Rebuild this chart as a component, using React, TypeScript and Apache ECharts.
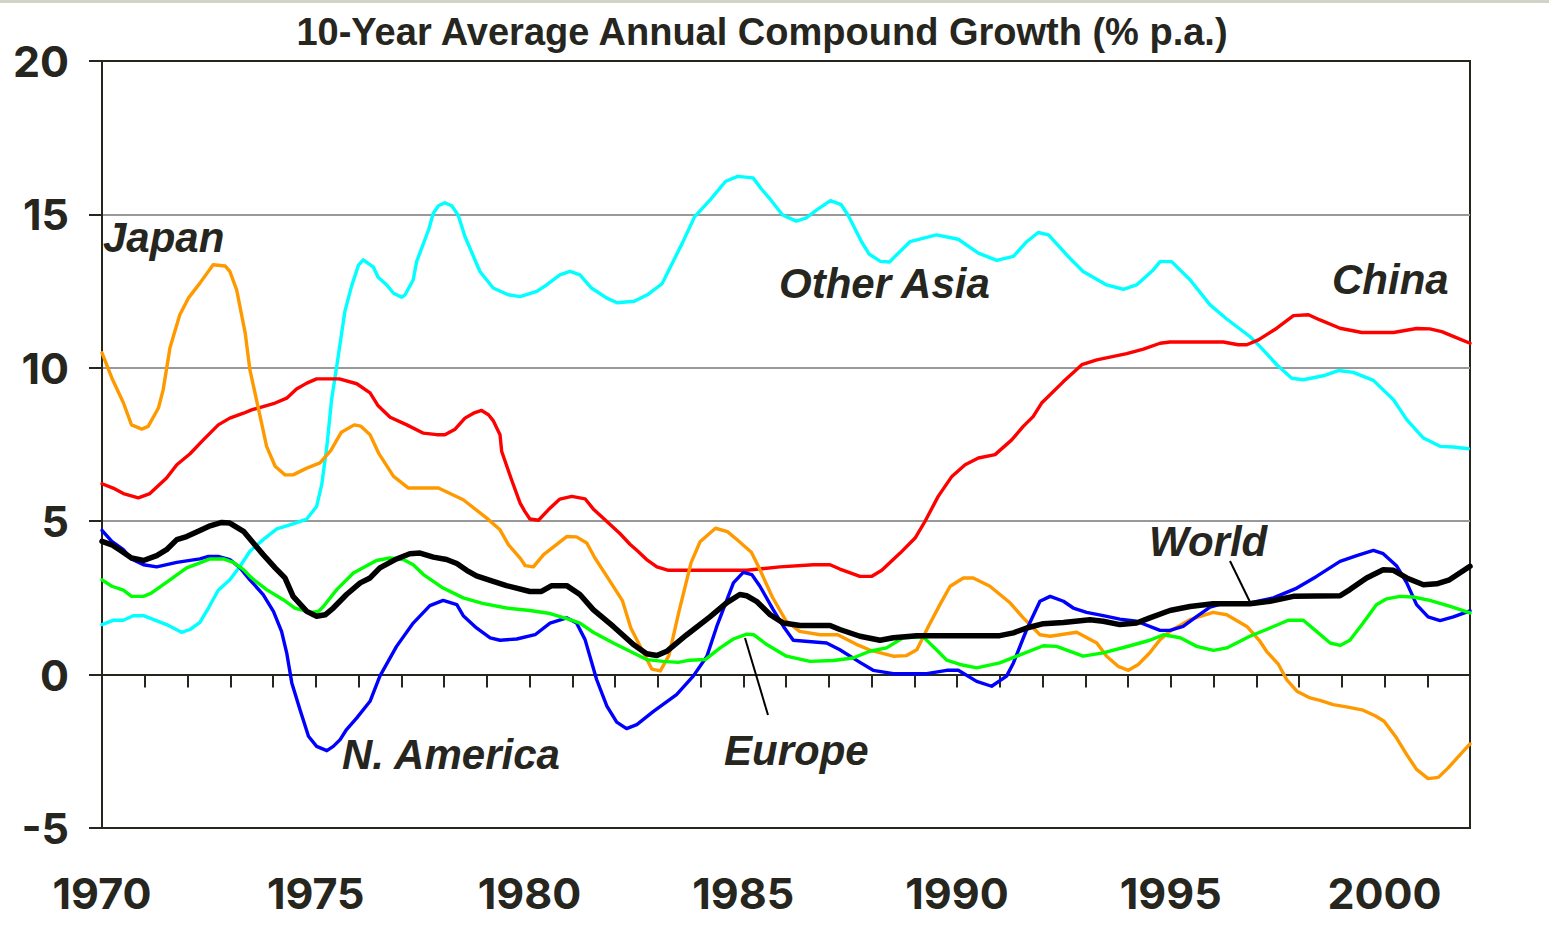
import React, { useEffect, useRef } from "react";
import * as echarts from "echarts";

const TITLE = "10-Year Average Annual Compound Growth (% p.a.)";
const Y_TICKS = [-5, 0, 5, 10, 15, 20];
const X_LABEL_YEARS = [1970, 1975, 1980, 1985, 1990, 1995, 2000];

const japan: number[][] = [[1970.0,10.49],[1970.23,9.67],[1970.5,8.86],[1970.69,8.14],[1970.93,8.0],[1971.08,8.09],[1971.32,8.69],[1971.43,9.28],[1971.59,10.65],[1971.82,11.73],[1972.02,12.27],[1972.29,12.76],[1972.6,13.36],[1972.88,13.32],[1972.99,13.14],[1973.15,12.54],[1973.35,11.13],[1973.46,9.93],[1973.7,8.41],[1973.85,7.44],[1974.05,6.79],[1974.28,6.51],[1974.47,6.51],[1974.79,6.73],[1975.1,6.9],[1975.35,7.3],[1975.6,7.9],[1975.9,8.14],[1976.05,8.1],[1976.27,7.82],[1976.47,7.22],[1976.82,6.46],[1977.17,6.08],[1977.87,6.08],[1978.45,5.7],[1979.0,5.1],[1979.31,4.72],[1979.51,4.23],[1979.78,3.8],[1979.9,3.55],[1980.09,3.51],[1980.33,3.91],[1980.87,4.5],[1981.1,4.49],[1981.34,4.29],[1981.53,3.8],[1981.81,3.2],[1982.17,2.42],[1982.37,1.52],[1982.7,0.62],[1982.86,0.18],[1983.06,0.12],[1983.26,0.62],[1983.5,2.08],[1983.78,3.65],[1983.99,4.33],[1984.35,4.77],[1984.63,4.66],[1984.87,4.38],[1985.19,3.99],[1985.35,3.54],[1985.68,2.53],[1986.0,1.75],[1986.32,1.41],[1986.8,1.3],[1987.21,1.3],[1987.69,0.96],[1987.96,0.8],[1988.51,0.6],[1988.82,0.62],[1989.06,0.81],[1989.33,1.57],[1989.6,2.28],[1989.84,2.88],[1990.15,3.15],[1990.38,3.15],[1990.77,2.88],[1991.24,2.34],[1991.55,1.85],[1991.94,1.3],[1992.18,1.25],[1992.8,1.38],[1993.27,1.03],[1993.5,0.6],[1993.77,0.27],[1994.01,0.14],[1994.24,0.33],[1994.51,0.71],[1994.75,1.14],[1994.98,1.41],[1995.45,1.79],[1995.99,2.03],[1996.31,1.95],[1996.78,1.57],[1997.09,1.08],[1997.24,0.76],[1997.52,0.33],[1997.71,-0.16],[1997.95,-0.54],[1998.26,-0.76],[1998.49,-0.84],[1998.8,-0.98],[1999.11,-1.05],[1999.5,-1.16],[1999.78,-1.34],[1999.99,-1.52],[2000.28,-2.06],[2000.52,-2.61],[2000.75,-3.09],[2001.02,-3.39],[2001.26,-3.35],[2001.49,-3.04],[2001.77,-2.61],[2002.0,-2.26]];

const china: number[][] = [[1970.0,6.22],[1970.26,6.08],[1970.5,5.9],[1970.85,5.76],[1971.12,5.9],[1971.51,6.41],[1971.75,6.84],[1972.06,7.2],[1972.37,7.65],[1972.72,8.14],[1972.99,8.36],[1973.31,8.52],[1973.5,8.63],[1974.01,8.83],[1974.32,9.01],[1974.55,9.31],[1974.79,9.5],[1975.02,9.64],[1975.55,9.64],[1975.96,9.48],[1976.27,9.18],[1976.46,8.76],[1976.74,8.39],[1977.13,8.14],[1977.52,7.87],[1977.83,7.82],[1978.02,7.82],[1978.26,8.0],[1978.49,8.36],[1978.69,8.52],[1978.88,8.61],[1979.04,8.47],[1979.15,8.28],[1979.31,7.82],[1979.35,7.27],[1979.58,6.35],[1979.78,5.59],[1979.89,5.32],[1980.01,5.07],[1980.21,5.03],[1980.44,5.37],[1980.71,5.72],[1980.99,5.81],[1981.3,5.73],[1981.49,5.4],[1981.81,4.99],[1982.12,4.59],[1982.35,4.25],[1982.51,4.05],[1982.74,3.75],[1982.98,3.51],[1983.25,3.4],[1985.08,3.4],[1985.86,3.51],[1986.64,3.58],[1987.03,3.58],[1987.26,3.44],[1987.73,3.2],[1988.0,3.2],[1988.24,3.4],[1988.67,3.96],[1989.02,4.45],[1989.25,4.99],[1989.56,5.81],[1989.88,6.46],[1990.19,6.84],[1990.5,7.06],[1990.89,7.17],[1991.28,7.65],[1991.55,8.09],[1991.78,8.41],[1991.98,8.85],[1992.49,9.55],[1992.92,10.1],[1993.27,10.26],[1993.97,10.46],[1994.36,10.61],[1994.75,10.8],[1994.98,10.84],[1996.23,10.84],[1996.58,10.75],[1996.78,10.75],[1997.05,10.91],[1997.48,11.29],[1997.87,11.7],[1998.22,11.73],[1998.49,11.56],[1998.96,11.29],[1999.47,11.15],[2000.21,11.15],[2000.75,11.28],[2001.06,11.27],[2001.34,11.18],[2001.65,11.0],[2002.0,10.8]];

const otherAsia: number[][] = [[1970.0,1.63],[1970.26,1.77],[1970.5,1.77],[1970.73,1.92],[1970.97,1.92],[1971.51,1.63],[1971.86,1.38],[1972.06,1.47],[1972.29,1.7],[1972.49,2.17],[1972.72,2.75],[1972.99,3.09],[1973.23,3.53],[1973.46,4.02],[1973.77,4.4],[1974.09,4.75],[1974.47,4.91],[1974.79,5.07],[1975.02,5.48],[1975.14,6.19],[1975.26,7.44],[1975.37,8.96],[1975.49,10.04],[1975.68,11.83],[1975.84,12.67],[1976.0,13.35],[1976.11,13.52],[1976.35,13.28],[1976.46,12.95],[1976.66,12.7],[1976.82,12.43],[1977.01,12.3],[1977.09,12.38],[1977.28,12.87],[1977.36,13.46],[1977.64,14.5],[1977.75,15.04],[1977.87,15.28],[1978.02,15.38],[1978.18,15.28],[1978.33,14.98],[1978.49,14.28],[1978.84,13.14],[1979.15,12.6],[1979.5,12.38],[1979.78,12.32],[1980.17,12.49],[1980.4,12.7],[1980.71,13.03],[1980.95,13.14],[1981.18,13.03],[1981.45,12.6],[1981.81,12.27],[1982.05,12.12],[1982.45,12.17],[1982.78,12.4],[1983.1,12.74],[1983.38,13.52],[1983.58,14.08],[1983.86,14.92],[1984.23,15.48],[1984.59,16.08],[1984.87,16.24],[1985.23,16.19],[1985.43,15.82],[1985.64,15.48],[1985.92,14.98],[1986.24,14.78],[1986.48,14.89],[1986.72,15.15],[1987.04,15.45],[1987.29,15.32],[1987.45,14.98],[1987.77,14.1],[1987.95,13.7],[1988.21,13.47],[1988.42,13.45],[1988.9,14.11],[1989.52,14.33],[1990.03,14.19],[1990.5,13.74],[1990.93,13.5],[1991.32,13.63],[1991.63,14.11],[1991.9,14.41],[1992.14,14.33],[1992.64,13.57],[1992.95,13.14],[1993.5,12.7],[1993.89,12.56],[1994.2,12.7],[1994.59,13.19],[1994.75,13.46],[1995.02,13.46],[1995.45,12.87],[1995.92,12.05],[1996.31,11.59],[1996.85,11.02],[1997.09,10.69],[1997.48,10.1],[1997.83,9.66],[1998.1,9.61],[1998.57,9.74],[1998.92,9.91],[1999.27,9.85],[1999.74,9.59],[2000.21,8.96],[2000.52,8.31],[2000.91,7.71],[2001.3,7.44],[2001.61,7.42],[2001.96,7.36]];

const nAmerica: number[][] = [[1970.0,4.7],[1970.23,4.34],[1970.5,4.07],[1970.69,3.77],[1970.97,3.58],[1971.28,3.51],[1971.75,3.66],[1972.29,3.77],[1972.49,3.85],[1972.72,3.85],[1972.99,3.75],[1973.23,3.48],[1973.46,3.09],[1973.77,2.61],[1974.01,2.06],[1974.2,1.41],[1974.32,0.71],[1974.44,-0.27],[1974.63,-1.14],[1974.83,-2.01],[1975.02,-2.34],[1975.26,-2.48],[1975.41,-2.34],[1975.57,-2.12],[1975.72,-1.79],[1975.96,-1.41],[1976.27,-0.87],[1976.5,-0.05],[1976.89,0.92],[1977.28,1.68],[1977.67,2.25],[1977.98,2.42],[1978.3,2.28],[1978.45,1.92],[1978.76,1.52],[1979.08,1.2],[1979.31,1.12],[1979.7,1.16],[1980.13,1.3],[1980.48,1.68],[1980.87,1.85],[1981.1,1.68],[1981.3,1.14],[1981.57,-0.16],[1981.81,-1.03],[1982.04,-1.55],[1982.27,-1.76],[1982.51,-1.63],[1982.9,-1.2],[1983.44,-0.65],[1983.83,-0.05],[1984.15,0.6],[1984.38,1.57],[1984.77,2.99],[1985.0,3.33],[1985.2,3.26],[1985.39,2.88],[1985.7,2.12],[1985.94,1.57],[1986.17,1.12],[1986.95,1.03],[1987.26,0.81],[1987.73,0.4],[1988.04,0.14],[1988.51,0.03],[1989.29,0.03],[1989.76,0.14],[1990.03,0.14],[1990.46,-0.22],[1990.81,-0.38],[1991.16,-0.05],[1991.32,0.38],[1991.63,1.47],[1991.94,2.39],[1992.18,2.55],[1992.49,2.39],[1992.72,2.17],[1993.03,2.03],[1993.42,1.92],[1993.81,1.81],[1994.2,1.74],[1994.75,1.44],[1994.98,1.44],[1995.29,1.57],[1995.61,1.9],[1995.92,2.2],[1996.27,2.34],[1996.85,2.34],[1997.4,2.5],[1997.95,2.82],[1998.41,3.2],[1998.96,3.69],[1999.35,3.88],[1999.74,4.05],[1999.97,3.94],[2000.28,3.55],[2000.52,2.99],[2000.75,2.28],[2001.02,1.88],[2001.3,1.76],[2001.61,1.88],[2002.0,2.08]];

const europe: number[][] = [[1970.0,3.09],[1970.23,2.88],[1970.5,2.75],[1970.69,2.55],[1970.97,2.55],[1971.16,2.66],[1971.59,3.09],[1971.98,3.48],[1972.29,3.64],[1972.53,3.77],[1972.84,3.77],[1973.07,3.66],[1973.31,3.42],[1973.5,3.15],[1973.85,2.77],[1974.24,2.44],[1974.51,2.17],[1974.87,2.03],[1975.06,2.06],[1975.18,2.22],[1975.49,2.77],[1975.88,3.31],[1976.42,3.72],[1976.74,3.8],[1977.05,3.75],[1977.28,3.58],[1977.52,3.26],[1977.98,2.82],[1978.45,2.5],[1978.9,2.32],[1979.46,2.17],[1980.01,2.09],[1980.48,1.99],[1980.95,1.79],[1981.18,1.68],[1981.49,1.38],[1981.96,1.03],[1982.35,0.76],[1982.74,0.49],[1983.13,0.43],[1983.48,0.4],[1983.75,0.47],[1984.11,0.49],[1984.46,0.87],[1984.77,1.16],[1985.08,1.32],[1985.24,1.3],[1985.55,0.98],[1986.01,0.6],[1986.56,0.43],[1987.11,0.46],[1987.57,0.54],[1987.96,0.76],[1988.35,0.87],[1988.74,1.2],[1989.21,1.23],[1989.52,0.81],[1989.76,0.47],[1990.07,0.33],[1990.46,0.22],[1991.0,0.38],[1991.4,0.6],[1992.02,0.94],[1992.33,0.92],[1992.95,0.6],[1993.42,0.71],[1994.05,0.94],[1994.51,1.12],[1994.83,1.3],[1995.22,1.2],[1995.61,0.92],[1996.0,0.79],[1996.31,0.87],[1996.85,1.25],[1997.24,1.47],[1997.75,1.77],[1998.1,1.77],[1998.41,1.41],[1998.73,1.03],[1998.96,0.95],[1999.19,1.12],[1999.5,1.68],[1999.81,2.28],[2000.05,2.47],[2000.36,2.55],[2000.67,2.53],[2001.06,2.42],[2001.52,2.23],[2002.0,2.01]];

const world: number[][] = [[1970.0,4.34],[1970.23,4.23],[1970.46,4.02],[1970.69,3.8],[1970.97,3.72],[1971.28,3.88],[1971.51,4.07],[1971.75,4.4],[1971.98,4.5],[1972.29,4.7],[1972.53,4.85],[1972.8,4.96],[1972.99,4.94],[1973.31,4.67],[1973.54,4.29],[1973.77,3.91],[1974.05,3.48],[1974.28,3.15],[1974.47,2.55],[1974.79,2.06],[1975.02,1.9],[1975.22,1.95],[1975.41,2.17],[1975.72,2.61],[1976.04,2.99],[1976.27,3.15],[1976.5,3.48],[1976.89,3.77],[1977.2,3.94],[1977.44,3.96],[1977.75,3.83],[1978.06,3.75],[1978.3,3.62],[1978.53,3.4],[1978.76,3.22],[1979.08,3.07],[1979.46,2.9],[1980.01,2.71],[1980.28,2.71],[1980.52,2.9],[1980.87,2.9],[1981.18,2.61],[1981.49,2.12],[1981.96,1.57],[1982.43,0.98],[1982.74,0.68],[1982.98,0.62],[1983.21,0.76],[1983.68,1.3],[1984.22,1.88],[1984.61,2.34],[1984.92,2.61],[1985.08,2.57],[1985.31,2.39],[1985.63,1.95],[1985.94,1.68],[1986.33,1.6],[1987.03,1.6],[1987.26,1.47],[1987.73,1.25],[1988.2,1.12],[1988.51,1.2],[1989.06,1.27],[1991.0,1.27],[1991.32,1.36],[1991.63,1.52],[1992.02,1.66],[1992.49,1.7],[1993.11,1.79],[1993.42,1.74],[1993.81,1.63],[1994.2,1.68],[1994.51,1.85],[1994.98,2.09],[1995.45,2.22],[1995.99,2.31],[1996.85,2.31],[1997.32,2.39],[1997.87,2.55],[1998.96,2.57],[1999.19,2.77],[1999.58,3.15],[1999.97,3.42],[2000.21,3.4],[2000.52,3.15],[2000.91,2.93],[2001.22,2.96],[2001.52,3.09],[2002.0,3.53]];

const SERIES = [
  { name: "Other Asia", data: otherAsia, color: "#00FFFF", width: 3.4 },
  { name: "China", data: china, color: "#FF0000", width: 3.4 },
  { name: "Japan", data: japan, color: "#FF9900", width: 3.4 },
  { name: "N. America", data: nAmerica, color: "#0000FF", width: 3.4 },
  { name: "Europe", data: europe, color: "#00FF00", width: 3.4 },
  { name: "World", data: world, color: "#000000", width: 5.5 },
];

const SERIES_LABELS = [
  { text: "Japan", x: 103, y: 237 },
  { text: "Other Asia", x: 779, y: 283 },
  { text: "China", x: 1332, y: 279 },
  { text: "World", x: 1149, y: 541 },
  { text: "N. America", x: 342, y: 754 },
  { text: "Europe", x: 724, y: 750 },
];

const LEADERS = [
  { x1: 1230, y1: 561, x2: 1250, y2: 602 },
  { x1: 745, y1: 638, x2: 768, y2: 715 },
];

const INK = "#26261f";
const AXIS_FONT = "Inter, 'Liberation Sans', Arial, sans-serif";
const LABEL_FONT = "'Liberation Sans', Arial, sans-serif";

export default function App() {
  const ref = useRef<HTMLDivElement>(null);
  useEffect(() => {
    if (!ref.current) return;
    const chart = echarts.init(ref.current, null, { renderer: "svg" });
    const option: any = {
      animation: false,
      backgroundColor: "#ffffff",
      title: {
        text: TITLE,
        left: 762,
        top: 13,
        padding: 0,
        textAlign: "center",
        textStyle: { fontFamily: LABEL_FONT, fontWeight: "bold", fontSize: 38, color: INK },
      },
      grid: {
        left: 102,
        right: 79,
        top: 61,
        bottom: 123,
        show: true,
        borderColor: INK,
        borderWidth: 2,
        backgroundColor: "transparent",
      },
      xAxis: [
        {
          type: "value",
          position: "bottom",
          min: 1970,
          max: 2002,
          interval: 1,
          axisLine: { show: false, onZero: false },
          axisTick: { show: false },
          splitLine: { show: false },
          axisLabel: {
            margin: 43,
            fontFamily: AXIS_FONT,
            fontWeight: "bold",
            fontSize: 43,
            color: INK,
            formatter: (v: number) => (X_LABEL_YEARS.includes(Math.round(v)) ? String(Math.round(v)) : ""),
          },
        },
        {
          type: "value",
          position: "bottom",
          min: 1970,
          max: 2002,
          interval: 1,
          axisLine: { show: true, onZero: true, lineStyle: { color: INK, width: 2 } },
          axisTick: { show: true, length: 13, inside: false, lineStyle: { color: INK, width: 2 } },
          axisLabel: { show: false },
          splitLine: { show: false },
        },
      ],
      yAxis: {
        type: "value",
        min: Y_TICKS[0],
        max: Y_TICKS[Y_TICKS.length - 1],
        interval: 5,
        axisLine: { show: true, onZero: false, lineStyle: { color: INK, width: 2 } },
        axisTick: { show: true, length: 13, lineStyle: { color: INK, width: 2 } },
        splitLine: {
          show: true,
          lineStyle: { color: Y_TICKS.map((t) => (t === 0 || t === 20 || t === -5 ? INK : "#999999")), width: 2 },
        },
        axisLabel: {
          margin: 33,
          fontFamily: AXIS_FONT,
          fontWeight: "bold",
          fontSize: 43,
          color: INK,
        },
      },
      series: SERIES.map((s, i) => ({
        name: s.name,
        type: "line",
        xAxisIndex: 0,
        data: s.data,
        showSymbol: false,
        symbol: "none",
        smooth: false,
        z: 3 + i,
        lineStyle: { color: s.color, width: s.width, join: "round", cap: "round" },
      })),
      graphic: [
        { type: "rect", left: 0, top: 0, shape: { x: 0, y: 0, width: 1549, height: 3 }, style: { fill: "#d3d3c7" }, z: 10 },
        ...SERIES_LABELS.map((l) => ({
          type: "text",
          x: l.x,
          y: l.y,
          z: 20,
          style: {
            text: l.text,
            fill: INK,
            font: `italic bold 42px ${LABEL_FONT}`,
            textAlign: "left",
            textVerticalAlign: "middle",
          },
        })),
        ...LEADERS.map((d) => ({
          type: "line",
          z: 20,
          shape: { x1: d.x1, y1: d.y1, x2: d.x2, y2: d.y2 },
          style: { stroke: "#000000", lineWidth: 2 },
        })),
      ],
    };
    chart.setOption(option);
    return () => chart.dispose();
  }, []);
  return <div ref={ref} style={{ position: "fixed", left: 0, top: 0, width: 1549, height: 951 }} />;
}
